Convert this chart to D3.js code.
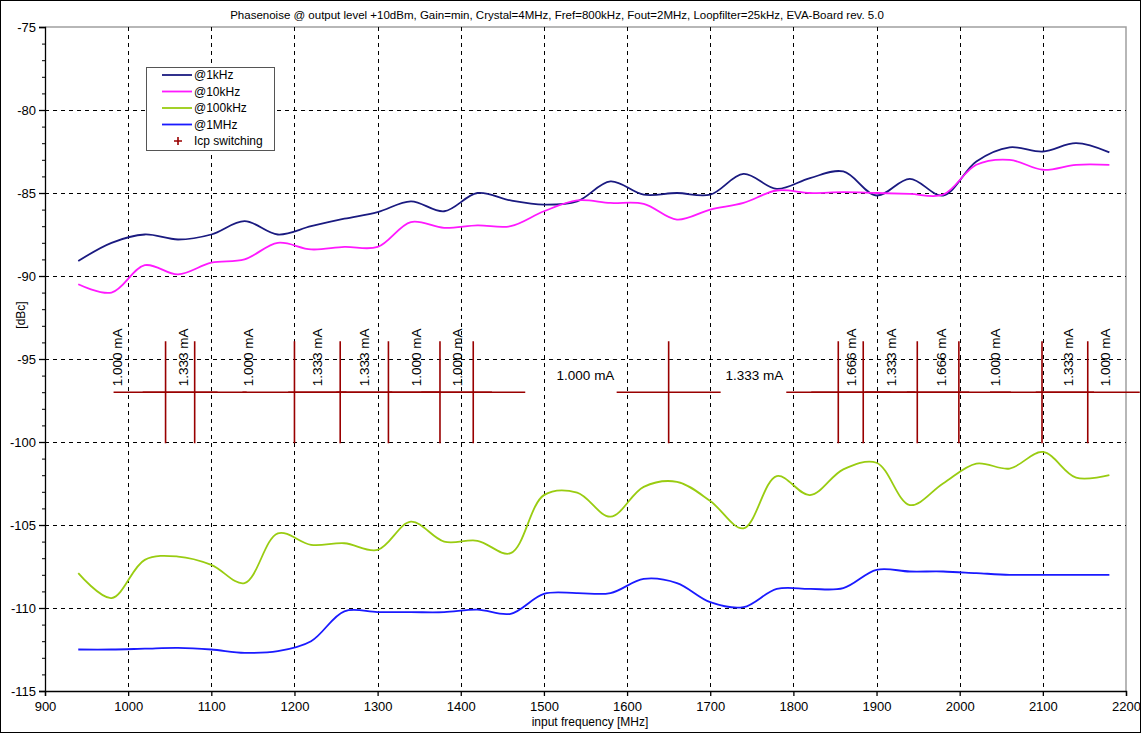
<!DOCTYPE html>
<html>
<head>
<meta charset="utf-8">
<script src="https://cdn.jsdelivr.net/npm/d3@7"></script>
<style>
  body { margin: 0; background: #fff; }
  text { font-family: "Liberation Sans", Arial, sans-serif; fill: #000; }
</style>
</head>
<body>
<svg width="1141" height="733"></svg>
<script>
// measured frequencies (MHz)
const freqs = [940, 980, 1020, 1060, 1100, 1140, 1180, 1220, 1260, 1300, 1340, 1380, 1420, 1460, 1500, 1540,
  1580, 1620, 1660, 1700, 1740, 1780, 1820, 1860, 1900, 1940, 1980, 2020, 2060, 2100, 2140, 2180];

// phase noise in dBc per offset
const noise1k = [-89.1, -88.0, -87.5, -87.8, -87.5, -86.7, -87.5, -87.0, -86.55, -86.15, -85.5, -86.1, -85.0, -85.45, -85.7, -85.5,
  -84.3, -85.1, -85.0, -85.1, -83.85, -84.75, -84.1, -83.7, -85.15, -84.15, -85.15, -83.1, -82.25, -82.5, -82.0, -82.55];
const noise10k = [-90.5, -91.0, -89.35, -89.9, -89.2, -89.0, -88.0, -88.4, -88.25, -88.25, -86.75, -87.1, -86.95, -87.0, -86.1, -85.45,
  -85.6, -85.65, -86.6, -86.0, -85.6, -84.85, -85.0, -84.95, -85.0, -85.05, -85.1, -83.3, -83.0, -83.6, -83.3, -83.3];
const noise100k = [-107.9, -109.4, -107.1, -106.9, -107.4, -108.5, -105.5, -106.2, -106.1, -106.5, -104.8, -106.0, -105.95, -106.7, -103.2, -103.05,
  -104.5, -102.7, -102.4, -103.55, -105.2, -102.05, -103.2, -101.65, -101.25, -103.8, -102.5, -101.3, -101.6, -100.6, -102.15, -102.0];
const noise1M = [-112.5, -112.5, -112.45, -112.4, -112.5, -112.7, -112.6, -112.0, -110.2, -110.25, -110.25, -110.25, -110.1, -110.35, -109.15, -109.1,
  -109.1, -108.25, -108.5, -109.65, -109.95, -108.85, -108.85, -108.8, -107.7, -107.8, -107.8, -107.9, -108.0, -108.0, -108.0, -108.0];

const seriesNames = ['@1kHz', '@10kHz', '@100kHz', '@1MHz'];
const seriesColors = ['#1a1a80', '#ff19ff', '#99cc11', '#1a1aff'];

// charge pump current switching points
const icpFreqs = [1045, 1080, 1200, 1255, 1313, 1375, 1415, 1650, 1854, 1884, 1949, 1999, 2099, 2154];
const icpLevel = -97;

// current labels between switching points
const labelFreqs = [987, 1066, 1144, 1228, 1284, 1347, 1396, 1550, 1753, 1870, 1918, 1978, 2043, 2130, 2175];
const labelTexts = ['1.000 mA', '1.333 mA', '1.000 mA', '1.333 mA', '1.333 mA', '1.000 mA', '1.000 mA', '1.000 mA',
  '1.333 mA', '1.666 mA', '1.333 mA', '1.666 mA', '1.000 mA', '1.333 mA', '1.000 mA'];
const labelRotated = [true, true, true, true, true, true, true, false, false, true, true, true, true, true, true];

const xTicks = d3.range(900, 2201, 100);
const yTicks = [-75, -80, -85, -90, -95, -100, -105, -110, -115];

const svg = d3.select('svg');
const width = +svg.attr('width');
const height = +svg.attr('height');

const plot = { left: 45, right: 1126, top: 27, bottom: 691 };

const x = d3.scaleLinear().domain([900, 2200]).range([plot.left, plot.right]);
const y = d3.scaleLinear().domain([-115, -75]).range([plot.bottom, plot.top]);

// outer frame
svg.append('rect')
  .attr('x', 0.5).attr('y', 0.5)
  .attr('width', width - 1).attr('height', height - 1)
  .attr('fill', '#fff').attr('stroke', '#000');

// title
svg.append('text')
  .attr('x', 557).attr('y', 19)
  .attr('text-anchor', 'middle')
  .style('font-size', '11.5px')
  .text('Phasenoise @ output level +10dBm, Gain=min, Crystal=4MHz, Fref=800kHz, Fout=2MHz, Loopfilter=25kHz, EVA-Board rev. 5.0');

// top / right border of plot area
svg.append('path')
  .attr('d', `M${plot.left},${plot.top}H${plot.right}V${plot.bottom}`)
  .attr('fill', 'none').attr('stroke', '#a0a0a0').attr('stroke-width', 1.5);

// grid
const grid = svg.append('g').attr('stroke', '#000').attr('stroke-dasharray', '4,4');
grid.selectAll('.vg').data(xTicks.slice(1, -1)).enter().append('line')
  .attr('x1', d => Math.round(x(d)) + 0.5).attr('x2', d => Math.round(x(d)) + 0.5)
  .attr('y1', plot.top).attr('y2', plot.bottom);
grid.selectAll('.hg').data(yTicks.slice(1, -1)).enter().append('line')
  .attr('y1', d => Math.round(y(d)) + 0.5).attr('y2', d => Math.round(y(d)) + 0.5)
  .attr('x1', plot.left).attr('x2', plot.right);

// axes
const xAxis = svg.append('g')
  .attr('transform', `translate(0,${plot.bottom})`)
  .call(d3.axisBottom(x).tickValues(xTicks).tickSize(5).tickPadding(6).tickFormat(d => String(d)));
const yAxis = svg.append('g')
  .attr('transform', `translate(${plot.left},0)`)
  .call(d3.axisLeft(y).tickValues(yTicks).tickSize(6).tickPadding(3).tickFormat(d => String(d)));
svg.append('g')
  .attr('transform', `translate(${plot.left},0)`)
  .call(d3.axisLeft(y).ticks(40).tickSize(3).tickFormat(''))
  .select('.domain').remove();

[xAxis, yAxis].forEach(a => {
  a.selectAll('text').style('font-size', '13px').attr('fill', '#000');
  a.selectAll('line, path').attr('stroke', '#000').attr('stroke-width', 1.3);
});

svg.append('text')
  .attr('x', 590).attr('y', 726)
  .attr('text-anchor', 'middle')
  .style('font-size', '12px')
  .text('input frequency [MHz]');

svg.append('text')
  .attr('transform', 'translate(25,315) rotate(-90)')
  .attr('text-anchor', 'middle')
  .style('font-size', '12px')
  .text('[dBc]');

// Icp switching markers
const icpColor = '#990000';
const markers = svg.append('g').attr('stroke', icpColor).attr('stroke-width', 1.6).attr('fill', 'none');
markers.selectAll('path').data(icpFreqs).enter().append('path')
  .attr('d', d => {
    const cx = x(d), cy = y(icpLevel);
    return `M${cx - 52},${cy}H${cx + 52}M${cx},${cy - 51}V${cy + 51}`;
  });

// current labels
const labels = svg.append('g').style('font-size', '13.5px');
labelFreqs.forEach((f, i) => {
  if (labelRotated[i]) {
    labels.append('text')
      .attr('transform', `translate(${x(f)},${y(-94.9)}) rotate(-90)`)
      .attr('text-anchor', 'middle')
      .attr('dy', '0.35em')
      .text(labelTexts[i]);
  } else {
    labels.append('text')
      .attr('x', x(f)).attr('y', y(-96))
      .attr('text-anchor', 'middle')
      .attr('dy', '0.35em')
      .text(labelTexts[i]);
  }
});

// noise curves
const allSeries = [noise1k, noise10k, noise100k, noise1M];
const line = d3.line()
  .x((d, i) => x(freqs[i]))
  .y(d => y(d))
  .curve(d3.curveCatmullRom.alpha(0.5));

svg.append('g').selectAll('path').data(allSeries).enter().append('path')
  .attr('d', line)
  .attr('fill', 'none')
  .attr('stroke', (d, i) => seriesColors[i])
  .attr('stroke-width', 1.8);

// legend
const legend = svg.append('g').attr('transform', 'translate(146,67)');
legend.append('rect')
  .attr('x', 0.5).attr('y', 0.5).attr('width', 128).attr('height', 83)
  .attr('fill', '#fff').attr('stroke', '#555').attr('stroke-width', 1);
seriesNames.forEach((name, i) => {
  const ly = 8 + i * 16.5;
  legend.append('line')
    .attr('x1', 16).attr('x2', 46).attr('y1', ly).attr('y2', ly)
    .attr('stroke', seriesColors[i]).attr('stroke-width', 1.8);
  legend.append('text')
    .attr('x', 48).attr('y', ly).attr('dy', '0.35em')
    .style('font-size', '12px')
    .text(name);
});
const iy = 8 + 4 * 16.5;
legend.append('path')
  .attr('d', `M28,${iy}h8M32,${iy - 4}v8`)
  .attr('stroke', icpColor).attr('stroke-width', 1.6);
legend.append('text')
  .attr('x', 48).attr('y', iy).attr('dy', '0.35em')
  .style('font-size', '12px')
  .text('Icp switching');
</script>
</body>
</html>
